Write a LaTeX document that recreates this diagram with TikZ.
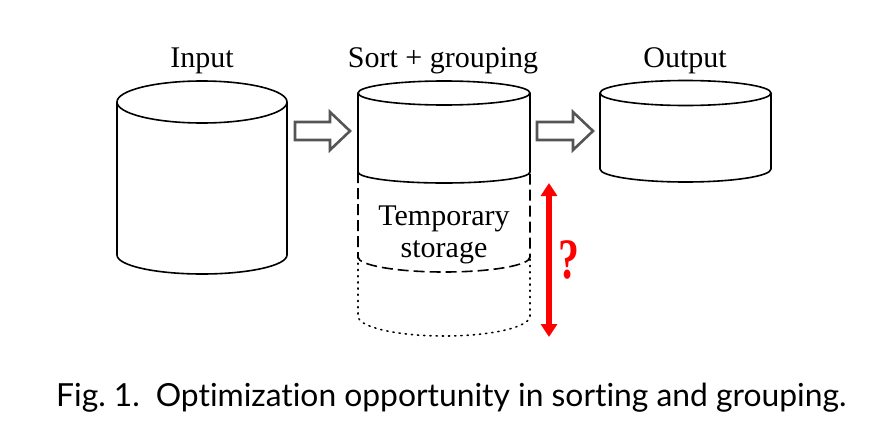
\documentclass[tikz,border=0pt]{standalone}
\usepackage{fontspec}
\setmainfont{Liberation Serif}
\newfontfamily\capfont[Ligatures={NoCommon}]{Lato}
\usetikzlibrary{arrows.meta}
\definecolor{arrgray}{HTML}{555555}
\definecolor{qred}{HTML}{FF0000}
\tikzset{
  cyl/.style={line width=1.6pt, black},
  cyldash/.style={line width=1.6pt, black, dash pattern=on 11pt off 5pt},
  cyldot/.style={line width=1.6pt, black, dash pattern=on 1.2pt off 5pt, line cap=round},
  blockarrow/.style={line width=2.6pt, arrgray, line join=miter},
  lbl/.style={font=\fontsize{30}{32}\selectfont, anchor=base, inner sep=0pt},
  redarrow/.style={line width=6pt, qred, {Triangle[width=16pt,length=13pt]}-{Triangle[width=16pt,length=13pt]}}
}
\begin{document}
\begin{tikzpicture}[x=1pt,y=1pt]
\useasboundingbox (0,0) rectangle (882,-444);
% labels
\node[lbl] (inlabel) at (202,-67) {Input};
\node[lbl] (sortlabel) at (443,-67) {Sort + grouping};
\node[lbl] (outlabel) at (685,-67) {Output};
% Input cylinder
\draw[cyl] (202,-102) ellipse [x radius=85, y radius=21];
\draw[cyl] (117,-102) -- (117,-255) arc[start angle=180,end angle=360,x radius=85,y radius=19] -- (287,-102);
% Sort cylinder
\draw[cyl] (444,-93) ellipse [x radius=86, y radius=12];
\draw[cyl] (358,-93) -- (358,-172) arc[start angle=180,end angle=360,x radius=86,y radius=11] -- (530,-93);
\draw[cyldash] (358,-172) -- (358,-257) arc[start angle=180,end angle=360,x radius=86,y radius=15] -- (530,-172);
\draw[cyldot] (358,-257) -- (358,-316) arc[start angle=180,end angle=360,x radius=86,y radius=20] -- (530,-257);
\node[lbl] (temp1) at (444,-225) {Temporary};
\node[lbl] (temp2) at (444,-257) {storage};
% Output cylinder
\draw[cyl] (685.5,-93) ellipse [x radius=85.5, y radius=12.5];
\draw[cyl] (600,-93) -- (600,-169) arc[start angle=180,end angle=360,x radius=85.5,y radius=13] -- (771,-93);
% block arrows
\draw[blockarrow] (295,-122) -- (330,-122) -- (330,-112) -- (350,-131) -- (330,-150) -- (330,-140) -- (295,-140) -- cycle;
\draw[blockarrow] (537,-122) -- (573,-122) -- (573,-112) -- (593,-131) -- (573,-150) -- (573,-140) -- (537,-140) -- cycle;
% red arrow
\coordinate (rtop) at (549,-183);
\coordinate (rbot) at (549,-337);
\draw[redarrow] (rtop) -- (rbot);
\node[text=qred, inner sep=0pt] (qmark) at (569,-260) {\scalebox{0.95}[1.3]{\fontsize{44}{44}\selectfont\bfseries ?}};
% caption
\node[anchor=base west, inner sep=0pt, font=\capfont\fontsize{31.8}{34}\selectfont] (caption) at (56,-406) {Fig.~1.\hspace{0.5em}Optimization opportunity in sorting and grouping.};
\end{tikzpicture}
\end{document}
